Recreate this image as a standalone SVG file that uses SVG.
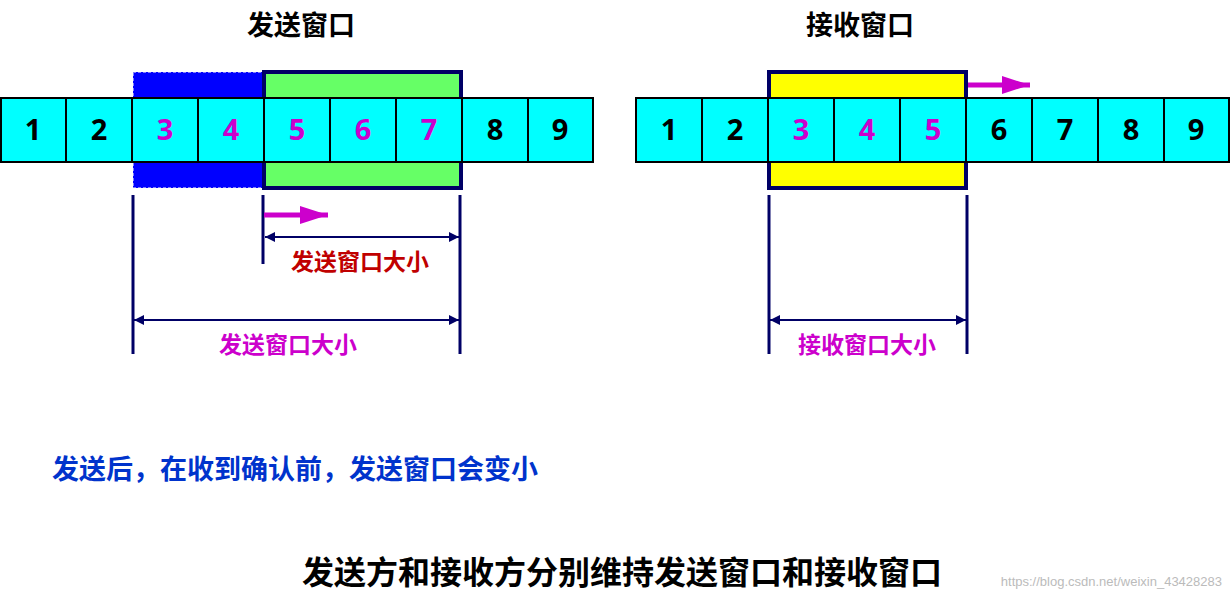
<svg xmlns="http://www.w3.org/2000/svg" width="1230" height="599" viewBox="0 0 1230 599">
<defs>
<style>
.c{fill:#00ffff;stroke:#000;stroke-width:2}
.n{font-family:"Noto Sans","Liberation Sans",sans-serif;font-weight:bold;font-size:29px;text-anchor:middle}
.k{fill:#000}.m{fill:#cc00cc}
.t{font-family:"Noto Sans CJK SC",sans-serif;font-weight:bold}
.v{stroke:#000066;stroke-width:3}
.d{stroke:#000066;stroke-width:2;marker-start:url(#a);marker-end:url(#a)}
</style>
<marker id="a" viewBox="0 0 10 10" refX="10" refY="5" markerWidth="10" markerHeight="10" orient="auto-start-reverse" markerUnits="userSpaceOnUse"><path d="M0,0L10,5L0,10z" fill="#000066"/></marker>
<marker id="p" viewBox="0 0 10 10" refX="10" refY="5" markerWidth="28" markerHeight="18" orient="auto" markerUnits="userSpaceOnUse" preserveAspectRatio="none"><path d="M0,0L10,5L0,10z" fill="#cc00cc"/></marker>
</defs>
<g id="send-window">
<rect x="133" y="72" width="131" height="116" fill="#0000ff" stroke="#fff" stroke-dasharray="3,2"/>
<rect x="264" y="72" width="197" height="116" fill="#66ff66" stroke="#000066" stroke-width="4"/>
</g>
<g id="recv-window">
<rect x="769" y="72" width="197" height="116" fill="#ffff00" stroke="#000066" stroke-width="4"/>
</g>
<g id="send-row">
<rect class="c" x="1" y="98" width="65" height="64"/><rect class="c" x="66" y="98" width="66" height="64"/>
<rect class="c" x="132" y="98" width="66" height="64"/><rect class="c" x="198" y="98" width="66" height="64"/>
<rect class="c" x="264" y="98" width="66" height="64"/><rect class="c" x="330" y="98" width="66" height="64"/>
<rect class="c" x="396" y="98" width="66" height="64"/><rect class="c" x="462" y="98" width="66" height="64"/>
<rect class="c" x="528" y="98" width="65" height="64"/>
<text class="n k" x="33" y="140">1</text><text class="n k" x="99" y="140">2</text>
<text class="n m" x="165" y="140">3</text><text class="n m" x="231" y="140">4</text>
<text class="n m" x="297" y="140">5</text><text class="n m" x="363" y="140">6</text>
<text class="n m" x="429" y="140">7</text><text class="n k" x="495" y="140">8</text>
<text class="n k" x="560" y="140">9</text>
</g>
<g id="recv-row">
<rect class="c" x="636" y="98" width="66" height="64"/><rect class="c" x="702" y="98" width="66" height="64"/>
<rect class="c" x="768" y="98" width="66" height="64"/><rect class="c" x="834" y="98" width="66" height="64"/>
<rect class="c" x="900" y="98" width="66" height="64"/><rect class="c" x="966" y="98" width="66" height="64"/>
<rect class="c" x="1032" y="98" width="66" height="64"/><rect class="c" x="1098" y="98" width="66" height="64"/>
<rect class="c" x="1164" y="98" width="65" height="64"/>
<text class="n k" x="669" y="140">1</text><text class="n k" x="735" y="140">2</text>
<text class="n m" x="801" y="140">3</text><text class="n m" x="867" y="140">4</text>
<text class="n m" x="933" y="140">5</text><text class="n k" x="999" y="140">6</text>
<text class="n k" x="1065" y="140">7</text><text class="n k" x="1131" y="140">8</text>
<text class="n k" x="1196" y="140">9</text>
</g>
<g id="connectors">
<line class="v" x1="133" y1="195" x2="133" y2="354"/>
<line class="v" x1="263" y1="195" x2="263" y2="264"/>
<line class="v" x1="460" y1="195" x2="460" y2="354"/>
<line class="v" x1="769" y1="195" x2="769" y2="354"/>
<line class="v" x1="967" y1="195" x2="967" y2="354"/>
<line class="d" x1="265" y1="237" x2="459" y2="237"/>
<line class="d" x1="134" y1="320" x2="459" y2="320"/>
<line class="d" x1="770" y1="320" x2="966" y2="320"/>
<line x1="264" y1="215" x2="328" y2="215" stroke="#cc00cc" stroke-width="5" marker-end="url(#p)"/>
<line x1="968" y1="85" x2="1030" y2="85" stroke="#cc00cc" stroke-width="5" marker-end="url(#p)"/>
</g>
<g id="labels" class="t">
<text x="301" y="35" font-size="27" text-anchor="middle">发送窗口</text>
<text x="860" y="35" font-size="27" text-anchor="middle">接收窗口</text>
<text x="360" y="270" font-size="23" fill="#c00000" text-anchor="middle">发送窗口大小</text>
<text x="288" y="353" font-size="23" fill="#cc00cc" text-anchor="middle">发送窗口大小</text>
<text x="867" y="353" font-size="23" fill="#cc00cc" text-anchor="middle">接收窗口大小</text>
<text x="52" y="479" font-size="27" fill="#0033cc">发送后，在收到确认前，发送窗口会变小</text>
<text x="622" y="584" font-size="32" text-anchor="middle">发送方和接收方分别维持发送窗口和接收窗口</text>
<text x="1222" y="586" font-size="13" fill="#bbbbbb" font-weight="normal" font-family="Liberation Sans,sans-serif" text-anchor="end">https://blog.csdn.net/weixin_43428283</text>
</g>
</svg>
